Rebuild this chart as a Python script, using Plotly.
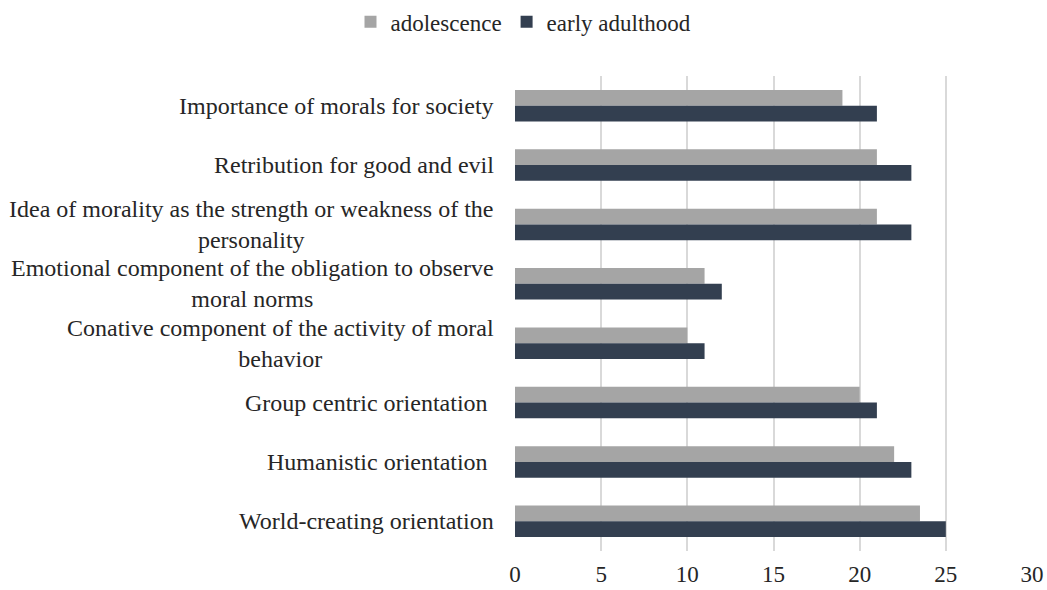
import plotly.graph_objects as go

categories = [
    "Importance of morals for society",
    "Retribution for good and evil",
    "Idea of morality as the strength or weakness of the<br>personality",
    "Emotional component of the obligation to observe<br>moral norms",
    "Conative component of the activity of moral<br>behavior",
    "Group centric orientation\u00a0",
    "Humanistic orientation\u00a0",
    "World-creating orientation",
]
adolescence = [19, 21, 21, 11, 10, 20, 22, 23.5]
early_adulthood = [21, 23, 23, 12, 11, 21, 23, 25]
x_ticks = [0, 5, 10, 15, 20, 25, 30]

FONT = "Liberation Serif"
TEXT = "#262626"
LABEL_SIZE = 24

fig = go.Figure()
fig.add_trace(go.Bar(y=categories, x=adolescence, orientation="h",
                     name="adolescence", marker=dict(color="#A5A5A5", line=dict(width=0))))
fig.add_trace(go.Bar(y=categories, x=early_adulthood, orientation="h",
                     name="early adulthood", marker=dict(color="#333F50", line=dict(width=0))))

for c in categories:
    fig.add_annotation(x=0, xref="paper", y=c, yref="y", text=c, showarrow=False,
                       xanchor="right", yanchor="middle", align="center", xshift=-19,
                       font=dict(family=FONT, size=LABEL_SIZE, color=TEXT))

fig.update_layout(
    width=1047, height=590,
    margin=dict(l=515, r=15, t=76, b=39),
    paper_bgcolor="white", plot_bgcolor="white",
    barmode="group", bargap=0.47, bargroupgap=0,
    font=dict(family=FONT, size=23, color=TEXT),
    showlegend=True,
    legend=dict(orientation="h", xref="container", yref="container",
                x=0.5, xanchor="center", y=0.963, yanchor="middle",
                traceorder="normal", font=dict(family=FONT, size=23, color=TEXT),
                itemwidth=30),
    xaxis=dict(range=[0, 30], tickvals=x_ticks, showgrid=True, gridcolor="#D9D9D9",
               gridwidth=1.5, zeroline=False, showline=False, ticks="",
               ticklabelstandoff=7, automargin=False,
               tickfont=dict(family=FONT, size=23, color=TEXT)),
    yaxis=dict(autorange="reversed", showticklabels=False, showgrid=False,
               zeroline=False, showline=False, ticks="", automargin=False),
)

fig.write_html("out.html")
